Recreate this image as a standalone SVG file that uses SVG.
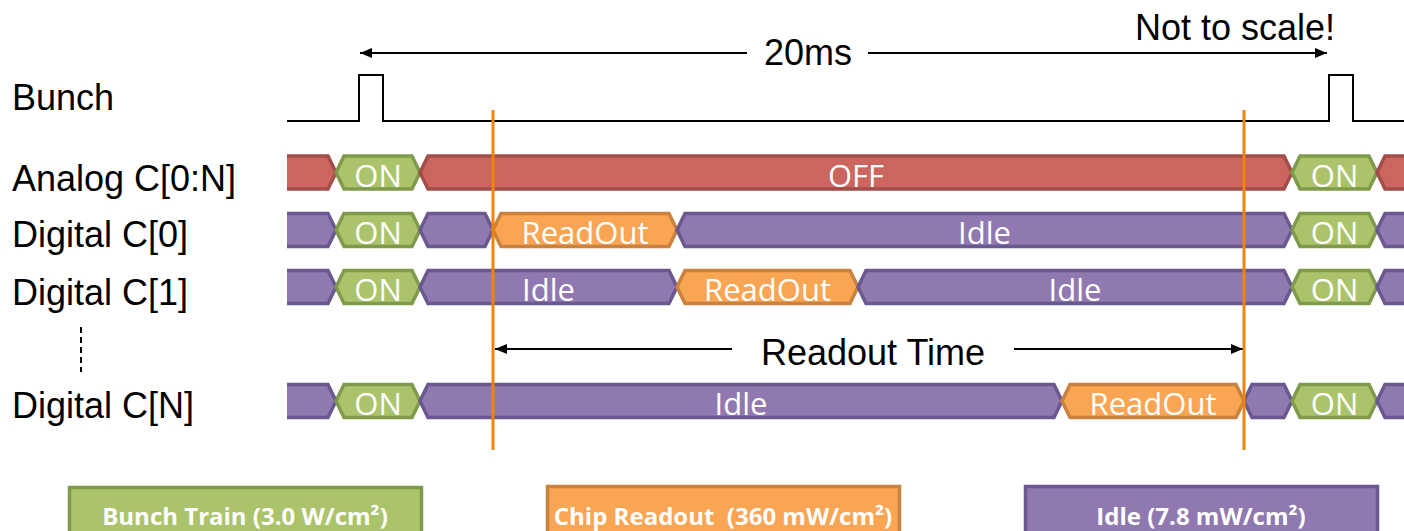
<svg xmlns="http://www.w3.org/2000/svg" width="1404" height="531" viewBox="0 0 1404 531">
<style>
.lbl{font-family:"Liberation Sans",Arial,sans-serif;font-size:36px;fill:#000}
.seg{stroke-width:3.5;stroke-linejoin:miter}
.red{fill:#CD655F;stroke:#A24D49}
.grn{fill:#ABC46B;stroke:#7F9A4A}
.pur{fill:#9079B0;stroke:#6A5890}
.org{fill:#F9A553;stroke:#C9823F}
.st{font-family:"Open Sans","Noto Sans",sans-serif;font-size:31px;fill:#fff;text-anchor:middle}
.leg{font-family:"Open Sans","Noto Sans",sans-serif;font-size:24px;font-weight:bold;fill:#fff;text-anchor:middle}
.ln{stroke:#000;stroke-width:2;fill:none}
.mk{stroke:#EF840E;stroke-width:3}
</style>
<defs>
<marker id="ah" markerUnits="userSpaceOnUse" markerWidth="12" markerHeight="10" refX="12" refY="5" orient="auto">
<path d="M0,0 L12,5 L0,10 z" fill="#000"/>
</marker>
<clipPath id="clip"><rect x="287" y="140" width="1117" height="300"/></clipPath>
</defs>

<g id="labels">
<text class="lbl" x="12" y="110">Bunch</text>
<text class="lbl" x="12" y="191">Analog C[0:N]</text>
<text class="lbl" x="12" y="247">Digital C[0]</text>
<text class="lbl" x="12" y="305">Digital C[1]</text>
<text class="lbl" x="12" y="418">Digital C[N]</text>
<text class="lbl" x="1135" y="40">Not to scale!</text>
<text class="lbl" x="808" y="65" text-anchor="middle">20ms</text>
<text class="lbl" x="873" y="365" text-anchor="middle">Readout Time</text>
</g>

<g id="bunch">
<polyline class="ln" points="287,121 359,121 359,75 383,75 383,121 1329,121 1329,75 1353,75 1353,121 1404,121"/>
</g>

<g id="analog" clip-path="url(#clip)">
<polygon class="seg red" points="270,172.5 278,156 328,156 336,172.5 328,189 278,189"/>
<polygon class="seg grn" points="336,172.5 344,156 412,156 420,172.5 412,189 344,189"/>
<polygon class="seg red" points="420,172.5 428,156 1284,156 1292,172.5 1284,189 428,189"/>
<polygon class="seg grn" points="1292,172.5 1300,156 1369,156 1377,172.5 1369,189 1300,189"/>
<polygon class="seg red" points="1377,172.5 1385,156 1422,156 1430,172.5 1422,189 1385,189"/>
<text class="st" x="378" y="187">ON</text>
<text class="st" x="856" y="187">OFF</text>
<text class="st" x="1334.5" y="187">ON</text>
</g>

<g id="digital0" clip-path="url(#clip)">
<polygon class="seg pur" points="270,230 278,213.5 328,213.5 336,230 328,246.5 278,246.5"/>
<polygon class="seg grn" points="336,230 344,213.5 412,213.5 420,230 412,246.5 344,246.5"/>
<polygon class="seg pur" points="420,230 428,213.5 485,213.5 493,230 485,246.5 428,246.5"/>
<polygon class="seg org" points="493,230 501,213.5 669,213.5 677,230 669,246.5 501,246.5"/>
<polygon class="seg pur" points="677,230 685,213.5 1284,213.5 1292,230 1284,246.5 685,246.5"/>
<polygon class="seg grn" points="1292,230 1300,213.5 1369,213.5 1377,230 1369,246.5 1300,246.5"/>
<polygon class="seg pur" points="1377,230 1385,213.5 1422,213.5 1430,230 1422,246.5 1385,246.5"/>
<text class="st" x="378" y="244">ON</text>
<text class="st" x="585" y="244">ReadOut</text>
<text class="st" x="984.5" y="244">Idle</text>
<text class="st" x="1334.5" y="244">ON</text>
</g>

<g id="digital1" clip-path="url(#clip)">
<polygon class="seg pur" points="270,287 278,270.5 328,270.5 336,287 328,303.5 278,303.5"/>
<polygon class="seg grn" points="336,287 344,270.5 412,270.5 420,287 412,303.5 344,303.5"/>
<polygon class="seg pur" points="420,287 428,270.5 669,270.5 677,287 669,303.5 428,303.5"/>
<polygon class="seg org" points="677,287 685,270.5 850,270.5 858,287 850,303.5 685,303.5"/>
<polygon class="seg pur" points="858,287 866,270.5 1284,270.5 1292,287 1284,303.5 866,303.5"/>
<polygon class="seg grn" points="1292,287 1300,270.5 1369,270.5 1377,287 1369,303.5 1300,303.5"/>
<polygon class="seg pur" points="1377,287 1385,270.5 1422,270.5 1430,287 1422,303.5 1385,303.5"/>
<text class="st" x="378" y="301">ON</text>
<text class="st" x="548.5" y="301">Idle</text>
<text class="st" x="767.5" y="301">ReadOut</text>
<text class="st" x="1075" y="301">Idle</text>
<text class="st" x="1334.5" y="301">ON</text>
</g>

<g id="digitalN" clip-path="url(#clip)">
<polygon class="seg pur" points="270,401 278,384.5 328,384.5 336,401 328,417.5 278,417.5"/>
<polygon class="seg grn" points="336,401 344,384.5 412,384.5 420,401 412,417.5 344,417.5"/>
<polygon class="seg pur" points="420,401 428,384.5 1054,384.5 1062,401 1054,417.5 428,417.5"/>
<polygon class="seg org" points="1062,401 1070,384.5 1236,384.5 1244,401 1236,417.5 1070,417.5"/>
<polygon class="seg pur" points="1244,401 1252,384.5 1284,384.5 1292,401 1284,417.5 1252,417.5"/>
<polygon class="seg grn" points="1292,401 1300,384.5 1369,384.5 1377,401 1369,417.5 1300,417.5"/>
<polygon class="seg pur" points="1377,401 1385,384.5 1422,384.5 1430,401 1422,417.5 1385,417.5"/>
<text class="st" x="378" y="415">ON</text>
<text class="st" x="741" y="415">Idle</text>
<text class="st" x="1153" y="415">ReadOut</text>
<text class="st" x="1334.5" y="415">ON</text>
</g>

<g id="connectors">
<line class="ln" x1="747" y1="53" x2="360" y2="53" marker-end="url(#ah)"/>
<line class="ln" x1="868" y1="53" x2="1327" y2="53" marker-end="url(#ah)"/>
<line class="ln" x1="732" y1="349" x2="495" y2="349" marker-end="url(#ah)"/>
<line class="ln" x1="1014" y1="349" x2="1243" y2="349" marker-end="url(#ah)"/>
<line class="mk" x1="493" y1="110" x2="493" y2="450"/>
<line class="mk" x1="1244" y1="110" x2="1244" y2="450"/>
<line x1="81" y1="327" x2="81" y2="372" stroke="#000" stroke-width="2" stroke-dasharray="6,4"/>
</g>

<g id="legend-bunch">
<rect class="grn" x="69.5" y="487.5" width="352" height="50" stroke-width="3.5"/>
<text class="leg" x="245" y="525">Bunch Train (3.0 W/cm²)</text>
</g>
<g id="legend-readout">
<rect class="org" x="547.5" y="486.5" width="352" height="50" stroke-width="3.5"/>
<text class="leg" x="723" y="525" xml:space="preserve">Chip Readout  (360 mW/cm²)</text>
</g>
<g id="legend-idle">
<rect class="pur" x="1025.5" y="486.5" width="352" height="50" stroke-width="3.5"/>
<text class="leg" x="1201" y="525">Idle (7.8 mW/cm²)</text>
</g>
</svg>
